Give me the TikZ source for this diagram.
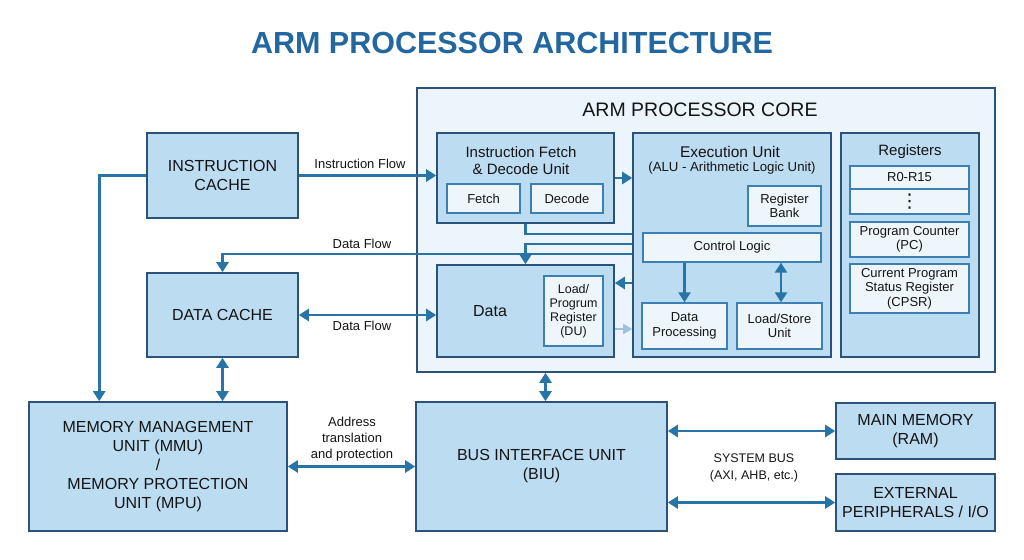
\documentclass[tikz,border=0pt]{standalone}
\usepackage{fontspec}
\setmainfont{Liberation Sans}
\newfontfamily\djv{DejaVu Sans}
\usetikzlibrary{arrows.meta,calc}
\definecolor{boxfill}{HTML}{BCDCF2}
\definecolor{boxedge}{HTML}{2B5279}
\definecolor{corefill}{HTML}{ECF5FB}
\definecolor{wfill}{HTML}{EEF6FC}
\definecolor{wedge}{HTML}{3C7FB3}
\definecolor{arrowc}{HTML}{2874A6}
\definecolor{lightarr}{HTML}{9CC2DE}
\definecolor{titlec}{HTML}{22679F}
\definecolor{txt}{HTML}{141414}
\tikzset{
  box/.style={draw=boxedge, fill=boxfill, line width=1.6pt, inner sep=0pt, align=center, text=txt},
  wbox/.style={draw=wedge, fill=wfill, line width=1.4pt, inner sep=0pt, align=center, text=txt},
  lbl/.style={inner sep=0pt, align=center, text=txt},
  bigtxt/.style={font=\fontsize{16}{19}\selectfont},
  medtxt/.style={font=\fontsize{15}{17}\selectfont},
  smtxt/.style={font=\fontsize{13}{14.5}\selectfont},
  flow/.style={draw=arrowc, line width=2.7pt, -{Triangle[length=10pt,width=12pt]}},
  dflow/.style={draw=arrowc, line width=2.7pt, {Triangle[length=10pt,width=12pt]}-{Triangle[length=10pt,width=12pt]}},
  plain/.style={draw=arrowc, line width=2.7pt},
  lflow/.style={draw=lightarr, line width=2.2pt, -{Triangle[length=9pt,width=10pt]}},
}
\begin{document}
\begin{tikzpicture}[x=1pt,y=-1pt]
\useasboundingbox (0,0) rectangle (1024,559);
% title
\node[inner sep=0pt, text=titlec, font=\fontsize{30.5}{34}\selectfont\bfseries] (title) at (512,43) {ARM PROCESSOR ARCHITECTURE};
% core
\node[draw=boxedge, fill=corefill, line width=1.6pt, minimum width=578pt, minimum height=284pt, inner sep=0pt] (core) at (706,230) {};
\node[lbl, font=\fontsize{19.5}{22}\selectfont] (coret) at (700,110) {ARM PROCESSOR CORE};
% instruction fetch & decode
\node[box, minimum width=177pt, minimum height=90pt] (ifdu) at (525.5,178) {};
\node[lbl, medtxt] (ifdut) at (521,161) {Instruction Fetch\\\& Decode Unit};
\node[wbox, smtxt, minimum width=73pt, minimum height=29pt] (fetch) at (483.5,198.5) {Fetch};
\node[wbox, smtxt, minimum width=72pt, minimum height=29pt] (decode) at (567,198.5) {Decode};
% data
\node[box, minimum width=177pt, minimum height=92pt] (data) at (525.5,311) {};
\node[lbl, font=\fontsize{16}{18}\selectfont] (datat) at (490,311) {Data};
\node[wbox, font=\fontsize{12.5}{14}\selectfont, minimum width=59pt, minimum height=70pt] (du) at (573.5,311) {Load/\\Progrum\\Register\\(DU)};
% execution unit
\node[box, minimum width=198pt, minimum height=224pt] (eu) at (732,245) {};
\node[lbl, font=\fontsize{15.5}{17}\selectfont] (eut) at (730,152) {Execution Unit};
\node[lbl, font=\fontsize{13.2}{15}\selectfont] (eut2) at (732,168) {(ALU - Arithmetic Logic Unit)};
\node[wbox, smtxt, minimum width=73pt, minimum height=40pt] (rb) at (784.5,206) {Register\\Bank};
\node[wbox, smtxt, minimum width=178pt, minimum height=29pt] (cl) at (732,247.5) {Control Logic};
\node[wbox, smtxt, minimum width=85pt, minimum height=46pt] (dp) at (684.5,326) {Data\\Processing};
\node[wbox, smtxt, minimum width=85pt, minimum height=46pt] (ls) at (779.5,326) {Load/Store\\Unit};
% registers
\node[box, minimum width=138pt, minimum height=224pt] (regs) at (910,245) {};
\node[lbl, medtxt] (regst) at (910,152) {Registers};
\node[wbox, smtxt, minimum width=119pt, minimum height=23pt] (r0) at (909.5,177.5) {R0-R15};
\node[wbox, font=\fontsize{19}{19}\selectfont\djv, minimum width=119pt, minimum height=25pt] (rdots) at (909.5,201.5) {⋮};
\node[wbox, smtxt, minimum width=119pt, minimum height=35pt] (pc) at (909.5,239.5) {Program Counter\\(PC)};
\node[wbox, smtxt, minimum width=119pt, minimum height=49pt] (cpsr) at (909.5,288.5) {Current Program\\Status Register\\(CPSR)};
% caches
\node[box, bigtxt, minimum width=151pt, minimum height=85pt] (ic) at (222.5,175.5) {INSTRUCTION\\CACHE};
\node[box, bigtxt, minimum width=151pt, minimum height=84pt] (dc) at (222.5,315) {DATA CACHE};
% bottom row
\node[box, bigtxt, minimum width=258pt, minimum height=129pt] (mmu) at (158,466.5) {MEMORY MANAGEMENT\\UNIT (MMU)\\/\\MEMORY PROTECTION\\UNIT (MPU)};
\node[box, bigtxt, minimum width=251pt, minimum height=129pt] (biu) at (541.5,466.5) {BUS INTERFACE UNIT\\(BIU)};
\node[box, bigtxt, minimum width=159pt, minimum height=56pt] (mm) at (915.5,431) {MAIN MEMORY\\(RAM)};
\node[box, bigtxt, minimum width=159pt, minimum height=57pt] (ext) at (915.5,502.5) {EXTERNAL\\PERIPHERALS / I/O};
% connectors
\draw[flow] (ic.east) -- (ic.east -| ifdu.west);
\node[lbl, smtxt] (lif) at (360,164) {Instruction Flow};
\draw[flow] (ic.west) -| ([xshift=71pt]mmu.north west);
\draw[flow] ($(eu.west)+(0,9)$) -| (dc.north);
\node[lbl, smtxt] (ldf1) at (362,244) {Data Flow};
\draw[plain] (ifdu.south) |- ($(eu.west)+(0,-11)$);
\draw[flow] ($(eu.west)+(0,-1)$) -| (data.north);
\draw[flow] (ifdu.east) -- (ifdu.east -| eu.west);
\draw[flow] ($(eu.west)+(0,38)$) -- ($(data.east)+(0,-28)$);
\draw[lflow] ($(data.east)+(0,18)$) -- ($(eu.west)+(0,84)$);
\draw[dflow] (dc.east) -- (dc.east -| data.west);
\node[lbl, smtxt] (ldf2) at (362,326) {Data Flow};
\draw[dflow] (dc.south) -- (dc.south |- mmu.north);
\draw[dflow] ([xshift=4pt]biu.north |- core.south) -- ([xshift=4pt]biu.north);
\draw[dflow] (mmu.east) -- (biu.west);
\node[lbl, font=\fontsize{13}{16}\selectfont] (laddr) at (352,439) {Address\\translation\\and protection};
\draw[dflow] (biu.east |- mm.west) -- (mm.west);
\draw[dflow] (biu.east |- ext.west) -- (ext.west);
\node[lbl, font=\fontsize{12.5}{17}\selectfont] (lbus) at (754,468) {SYSTEM BUS\\(AXI, AHB, etc.)};
\draw[flow] (dp.north |- cl.south) -- (dp.north);
\draw[dflow] ([xshift=1.5pt]ls.north |- cl.south) -- ([xshift=1.5pt]ls.north);
\end{tikzpicture}
\end{document}
